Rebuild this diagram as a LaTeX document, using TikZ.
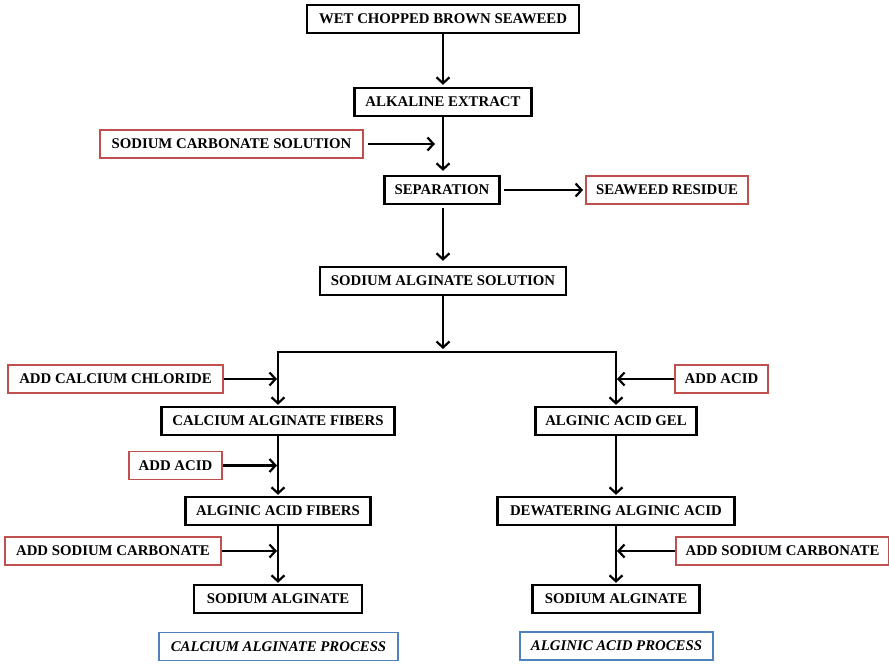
\documentclass[tikz,border=0pt]{standalone}
\usepackage{fontspec}
\setmainfont{Liberation Serif}
\usetikzlibrary{arrows.meta}
\definecolor{boxred}{HTML}{C0504D}
\definecolor{boxblue}{HTML}{4F81BD}
\begin{document}
\begin{tikzpicture}[x=1pt,y=-1pt,
 every node/.style={font=\fontsize{14.8}{17}\selectfont\bfseries, inner sep=0pt, minimum height=28pt},
 mainbox/.style={draw=black, line width=2.4pt},
 inbox/.style={draw=boxred, line width=1.8pt},
 procbox/.style={draw=boxblue, line width=1.8pt, font=\fontsize{14.8}{17}\selectfont\bfseries\itshape},
 flow/.style={line width=2.2pt, shorten >=1pt, -{Straight Barb[length=6pt,width=13pt,line width=2.2pt]}},
 plain/.style={line width=2.2pt}
]
\path[use as bounding box] (0,0) rectangle (889,666);
% main column
\node[mainbox, minimum width=272pt] (wet) at (443,19) {WET CHOPPED BROWN SEAWEED};
\node[mainbox, minimum width=177pt] (alk) at (443,102) {ALKALINE EXTRACT};
\node[inbox, minimum width=263pt] (sodc) at (231.5,144) {SODIUM CARBONATE SOLUTION};
\node[mainbox, minimum width=115pt] (sep) at (442,190) {SEPARATION};
\node[inbox, minimum width=162pt] (res) at (667,190) {SEAWEED RESIDUE};
\node[mainbox, minimum width=246pt] (sas) at (443,281) {SODIUM ALGINATE SOLUTION};
\coordinate (split) at (443,352);
% left branch
\node[inbox, minimum width=215pt] (cacl) at (115.5,379) {ADD CALCIUM CHLORIDE};
\node[mainbox, minimum width=233pt] (caf) at (278,421) {CALCIUM ALGINATE FIBERS};
\node[inbox, minimum width=93pt] (acidL) at (175.5,465.5) {ADD ACID};
\node[mainbox, minimum width=185pt] (aaf) at (278,511) {ALGINIC ACID FIBERS};
\node[inbox, minimum width=216pt] (scL) at (113,551) {ADD SODIUM CARBONATE};
\node[mainbox, minimum width=168pt] (saL) at (278,599) {SODIUM ALGINATE};
\node[procbox, minimum width=239pt] (procL) at (278.5,646.5) {CALCIUM ALGINATE PROCESS};
% right branch
\node[inbox, minimum width=93pt] (acidR) at (721.5,379) {ADD ACID};
\node[mainbox, minimum width=161pt] (gel) at (616,421) {ALGINIC ACID GEL};
\node[mainbox, minimum width=237pt] (dew) at (616,511) {DEWATERING ALGINIC ACID};
\node[inbox, minimum width=213pt] (scR) at (782.5,551) {ADD SODIUM CARBONATE};
\node[mainbox, minimum width=167pt] (saR) at (616,599) {SODIUM ALGINATE};
\node[procbox, minimum width=193pt] (procR) at (616.5,646) {ALGINIC ACID PROCESS};
% connectors
\draw[flow, shorten >=2pt] (wet.south) -- (alk.north);
\draw[flow, shorten >=4pt] (alk.south) -- (alk.south |- sep.north);
\draw[flow, shorten <=4pt, shorten >=8pt] (sodc.east) -- (alk.south |- sodc.east);
\draw[flow, shorten <=3pt, shorten >=2pt] (sep.east) -- (res.west);
\draw[flow, shorten <=3pt, shorten >=5pt] (sep.south -| sas.north) -- (sas.north);
\draw[flow, shorten >=3pt] (sas.south) -- (split);
\draw[flow, line join=miter] (split) -| (caf.north);
\draw[flow, line join=miter] (split) -| (gel.north);
\draw[flow] (cacl.east) -- (caf.north |- cacl.east);
\draw[flow] (acidR.west) -- (gel.north |- acidR.west);
\draw[flow] (caf.south) -- (aaf.north);
\draw[flow] (acidL.east) -- (caf.south |- acidL.east);
\draw[flow] (aaf.south) -- (saL.north);
\draw[flow] (scL.east) -- (aaf.south |- scL.east);
\draw[flow] (gel.south) -- (dew.north);
\draw[flow] (dew.south) -- (saR.north);
\draw[flow] (scR.west) -- (dew.south |- scR.west);
\end{tikzpicture}
\end{document}
